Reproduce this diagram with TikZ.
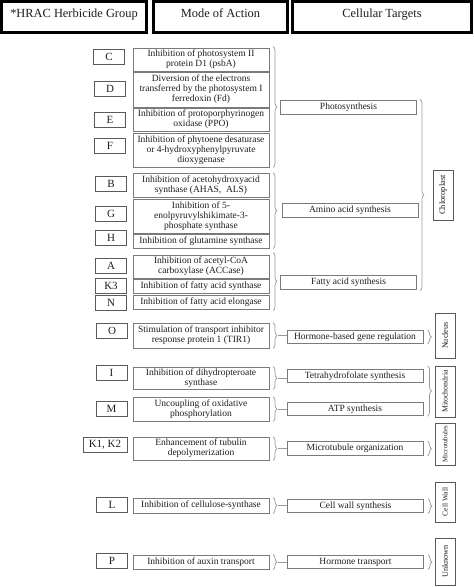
\documentclass[tikz,border=0pt]{standalone}
\usepackage{fontspec}
\setmainfont{Liberation Serif}
\usetikzlibrary{decorations.pathreplacing,calc}
\definecolor{boxgray}{HTML}{7A7A7A}
\definecolor{letgray}{HTML}{5A5A5A}
\definecolor{brgray}{HTML}{9A9A9A}
\definecolor{txt}{HTML}{1E1E1E}
\begin{document}
\begin{tikzpicture}[x=1pt,y=-1pt,
  hdr/.style={draw=black,line width=2.5pt,minimum height=31.4pt,inner sep=0pt,
    text height=9pt,text depth=9pt,font=\fontsize{12.4}{14}\selectfont,text=txt},
  letbox/.style={draw=letgray,line width=1pt,minimum width=31pt,minimum height=15pt,
    inner sep=1pt,font=\fontsize{11}{12}\selectfont,text=txt},
  modebox/.style={draw=boxgray,line width=1pt,minimum width=136pt,inner sep=1pt,
    align=center,font=\fontsize{9.5}{10}\selectfont,text=txt},
  tgtbox/.style={draw=boxgray,line width=1pt,minimum width=136pt,minimum height=13.5pt,
    inner sep=1pt,font=\fontsize{9.5}{10}\selectfont,text=txt},
  compbox/.style={draw=letgray,line width=0.9pt,minimum width=20pt,inner sep=1pt,text=txt},
  comptext/.style={rotate=90,text=txt,inner sep=0pt},
  brc/.style={draw=brgray,line width=0.7pt,decorate,decoration={brace,amplitude=4pt}},
  lnk/.style={draw=brgray,line width=0.7pt}
]
\useasboundingbox (0,0) rectangle (474,587);
\fill[white] (0,0) rectangle (474,587);

% headers
\node[hdr,minimum width=145.4pt] (h1) at (74,17) {*HRAC Herbicide Group};
\node[hdr,minimum width=134.4pt] (h2) at (220.5,17) {Mode of Action};
\node[hdr,minimum width=179.4pt] (h3) at (382,17) {Cellular Targets};

% modes of action
\node[modebox,minimum height=23pt] (mC) at (201,59.5) {Inhibition of photosystem II\\protein D1 (psbA)};
\node[modebox,minimum height=35pt] (mD) at (201,89.5) {Diversion of the electrons\\transferred by the photosystem I\\ferredoxin (Fd)};
\node[modebox,minimum height=23pt] (mE) at (201,119.5) {Inhibition of protoporphyrinogen\\oxidase (PPO)};
\node[modebox,minimum height=34pt] (mF) at (201,150) {Inhibition of phytoene desaturase\\or 4-hydroxyphenylpyruvate\\dioxygenase};
\node[modebox,minimum height=24pt] (mB) at (201,185) {Inhibition of acetohydroxyacid\\synthase (AHAS,\ \ ALS)};
\node[modebox,minimum height=34pt] (mG) at (201,216) {Inhibition of 5-\\enolpyruvylshikimate-3-\\phosphate synthase};
\node[modebox,minimum height=13.5pt] (mH) at (201,241.5) {Inhibition of glutamine synthase};
\node[modebox,minimum height=23pt] (mA) at (201,266.5) {Inhibition of acetyl-CoA\\carboxylase (ACCase)};
\node[modebox,minimum height=13.5pt] (mK3) at (201,286.5) {Inhibition of fatty acid synthase};
\node[modebox,minimum height=14pt] (mN) at (201,302) {Inhibition of fatty acid elongase};
\node[modebox,minimum height=25pt] (mO) at (201,335.5) {Stimulation of transport inhibitor\\response protein 1 (TIR1)};
\node[modebox,minimum height=22pt] (mI) at (201,378) {Inhibition of dihydropteroate\\synthase};
\node[modebox,minimum height=24pt] (mM) at (201,409) {Uncoupling of oxidative\\phosphorylation};
\node[modebox,minimum height=23pt] (mK) at (201,448.5) {Enhancement of tubulin\\depolymerization};
\node[modebox,minimum height=15pt] (mL) at (201,505.5) {Inhibition of cellulose-synthase};
\node[modebox,minimum height=14pt] (mP) at (201,562) {Inhibition of auxin transport};

% HRAC groups
\node[letbox] (gC) at (109,56.5) {C};
\node[letbox] (gD) at (110,88.5) {D};
\node[letbox] (gE) at (110,119.5) {E};
\node[letbox] (gF) at (110,145.5) {F};
\node[letbox] (gB) at (111,184) {B};
\node[letbox] (gG) at (111,213.5) {G};
\node[letbox] (gH) at (111,238) {H};
\node[letbox] (gA) at (111,265.5) {A};
\node[letbox] (gK3) at (111,285.5) {K3};
\node[letbox] (gN) at (111,302.5) {N};
\node[letbox] (gO) at (112,331) {O};
\node[letbox] (gI) at (111.5,373) {I};
\node[letbox] (gM) at (111.5,409) {M};
\node[letbox,minimum width=44pt] (gK) at (105,445) {K1, K2};
\node[letbox] (gL) at (112,505) {L};
\node[letbox] (gP) at (112,560.5) {P};

% targets
\node[tgtbox] (tPh) at (348.5,107.5) {Photosynthesis};
\node[tgtbox] (tAm) at (350,210.5) {Amino acid synthesis};
\node[tgtbox] (tFa) at (348.5,282.5) {Fatty acid synthesis};
\node[tgtbox,minimum height=12.5pt] (tHb) at (355,337) {Hormone-based gene regulation};
\node[tgtbox] (tTh) at (355,376) {Tetrahydrofolate synthesis};
\node[tgtbox] (tAt) at (355,409) {ATP synthesis};
\node[tgtbox] (tMi) at (355,448.5) {Microtubule organization};
\node[tgtbox] (tCw) at (355.5,506) {Cell wall synthesis};
\node[tgtbox] (tHt) at (355.5,562) {Hormone transport};

% compartments
\node[compbox,minimum height=50pt] (cCh) at (443,195) {};
\node[comptext,font=\fontsize{8.5}{9}\selectfont] at (cCh.center) {Chloroplast};
\node[compbox,minimum height=45pt] (cNu) at (445,335.5) {};
\node[comptext,font=\fontsize{8.2}{9}\selectfont] at (cNu.center) {Nucleus};
\node[compbox,minimum height=51pt] (cMi) at (445,391.5) {};
\node[comptext,font=\fontsize{7.8}{9}\selectfont] at (cMi.center) {Mitochondria};
\node[compbox,minimum height=42pt] (cMt) at (445,444) {};
\node[comptext,font=\fontsize{6.8}{8}\selectfont] at (cMt.center) {Microtubules};
\node[compbox,minimum height=40pt] (cCw) at (445,502) {};
\node[comptext,font=\fontsize{7.5}{8}\selectfont] at (cCw.center) {Cell Wall};
\node[compbox,minimum height=47pt] (cUn) at (445,561.5) {};
\node[comptext,font=\fontsize{8.2}{9}\selectfont] at (cUn.center) {Unknown};

% braces: modes -> targets
\draw[brc] ($(mC.north east)+(3.5,-1)$) -- ($(mF.south east)+(3.5,0)$);
\draw[brc] ($(mB.north east)+(3.5,0)$) -- ($(mH.south east)+(3.5,0)$);
\draw[brc] ($(mA.north east)+(3.5,-2)$) -- ($(mN.south east)+(3.5,1)$);
\foreach \m/\t in {mO/tHb,mI/tTh,mM/tAt,mK/tMi,mL/tCw,mP/tHt}{
  \draw[brc] ($(\m.north east)+(3.5,0)$) -- ($(\m.south east)+(3.5,0)$);
  \draw[lnk] ($(\m.east)+(8,0)$) -- (\t.west |- {$(\m.east)$});
}

% braces: targets -> compartments
\draw[brc] ($(tPh.north east)+(3,-1)$) -- ($(tFa.south east)+(3,1)$);
\draw[brc] ($(tHb.north east)+(4,0)$) -- ($(tHb.south east)+(4,0)$);
\draw[brc] ($(tTh.north east)+(4,-3)$) -- ($(tAt.south east)+(4,0)$);
\draw[brc] ($(tMi.north east)+(4,0)$) -- ($(tMi.south east)+(4,0)$);
\draw[brc] ($(tCw.north east)+(4,0)$) -- ($(tCw.south east)+(4,0)$);
\draw[brc] ($(tHt.north east)+(4,0)$) -- ($(tHt.south east)+(4,0)$);
\end{tikzpicture}
\end{document}
